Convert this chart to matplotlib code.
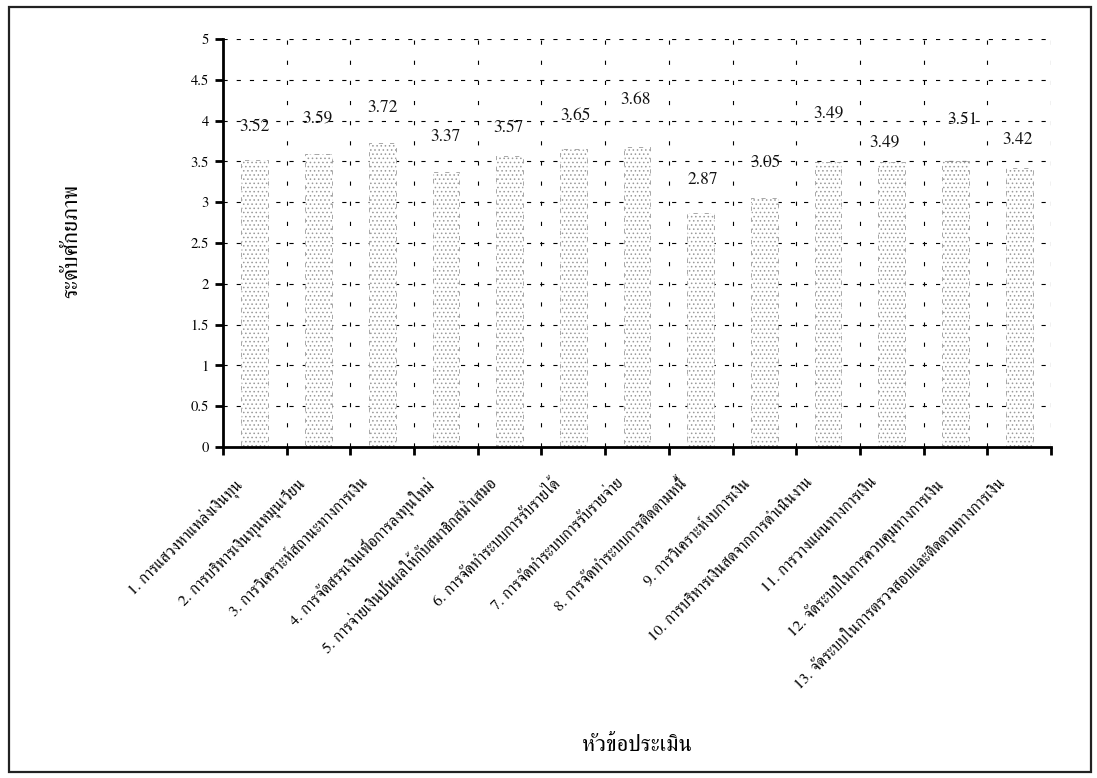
import matplotlib
matplotlib.use("Agg")
import matplotlib.pyplot as plt
from matplotlib.patches import Rectangle
import numpy as np

# data
topics = [
    "1. การแสวงหาแหล่งเงินทุน",
    "2. การบริหารเงินทุนหมุนเวียน",
    "3. การวิเคราะห์สถานะทางการเงิน",
    "4. การจัดสรรเงินเพื่อการลงทุนใหม่",
    "5. การจ่ายเงินปันผลให้กับสมาชิกสม่ำเสมอ",
    "6. การจัดทำระบบการรับรายได้",
    "7. การจัดทำระบบการรับรายจ่าย",
    "8. การจัดทำระบบการติดตามหนี้",
    "9. การวิเคราะห์งบการเงิน",
    "10. การบริหารเงินสดจากการดำเนินงาน",
    "11. การวางแผนทางการเงิน",
    "12. จัดระบบในการควบคุมทางการเงิน",
    "13. จัดระบบในการตรวจสอบและติดตามทางการเงิน",
]
scores = [3.52, 3.59, 3.72, 3.37, 3.57, 3.65, 3.68, 2.87, 3.05, 3.49, 3.49, 3.51, 3.42]
yticks = [0, 0.5, 1, 1.5, 2, 2.5, 3, 3.5, 4, 4.5, 5]
ylabel = "ระดับศักยภาพ"
xlabel = "หัวข้อประเมิน"

# label nudges (pixels), as placed in the original
lab_dx = [0, -1, 0, 0, -1, 2, -1, 2, 1, 0, -7, 7, -2]
lab_dy = [33, 35, 35, 35, 28, 33, 47, 33, 35, 49, 20, 41, 28]

FONT = ["FreeSerif", "Liberation Serif", "DejaVu Serif"]
plt.rcParams["font.family"] = FONT
plt.rcParams["lines.scale_dashes"] = False
plt.rcParams["hatch.linewidth"] = 0.6

fig = plt.figure(figsize=(10.97, 7.78), dpi=100)
renderer = fig.canvas.get_renderer()


def fit_size(s, target_px, base=12.0):
    # font size that makes text s about target_px wide
    t = fig.text(0, 0, s, fontsize=base)
    w = t.get_window_extent(renderer).width
    t.remove()
    return base * target_px / w


tick_fs = fit_size(topics[12], 292)
axis_fs = fit_size(xlabel, 110)

ax = fig.add_axes([223 / 1097, 1 - 447 / 778, (1051 - 223) / 1097, (447 - 39) / 778])

# outer frame
fig.patches.append(Rectangle((9 / 1097, 6 / 778), 1082 / 1097, 765 / 778, transform=fig.transFigure,
                             fill=False, edgecolor="#222222", linewidth=1.6))

x = np.arange(1, len(scores) + 1)
ax.set_xlim(0.5, len(scores) + 0.5)
ax.set_ylim(0, 5)

# grid
for yv in yticks[1:]:
    ax.axhline(yv, color="black", linewidth=0.8, dashes=(3, 6.5), zorder=1)
for xv in np.arange(1.5, len(scores) + 1):
    ax.axvline(xv, color="black", linewidth=0.8, dashes=(3, 11.5), zorder=1)

bars = ax.bar(x, scores, width=0.42, facecolor="white", edgecolor="#9a9a9a", hatch="....",
              linewidth=0.6, linestyle=(0, (3, 5)), zorder=2)

for xi, v, dx, dy in zip(x, scores, lab_dx, lab_dy):
    ax.annotate("%.2f" % v, (xi, v), xytext=(dx, dy), textcoords="offset pixels",
                ha="center", va="center", fontsize=12.5, color="#111111")

ax.set_yticks(yticks)
ax.set_yticklabels(["%g" % t for t in yticks], fontsize=10.5)
ax.set_xticks(np.arange(0.5, len(scores) + 1))
ax.set_xticklabels([])
ax.set_xticks(x - 0.34, minor=True)
ax.set_xticklabels(topics, minor=True, rotation=45, ha="right", va="top",
                   rotation_mode="anchor", fontsize=tick_fs)
ax.tick_params(axis="x", which="minor", length=0, pad=20.5)
ax.tick_params(axis="x", which="major", length=6, width=2, direction="out")
ax.tick_params(axis="y", length=6, width=2, direction="out", pad=4)

for s in ["top", "right"]:
    ax.spines[s].set_visible(False)
for s in ["left", "bottom"]:
    ax.spines[s].set_linewidth(2)

fig.text(72 / 1097, 1 - 241 / 778, ylabel, rotation=90, ha="center", va="center", fontsize=axis_fs)
fig.text(637 / 1097, 1 - 745 / 778, xlabel, ha="center", va="center", fontsize=axis_fs)

fig.savefig("out.png", dpi=100)
